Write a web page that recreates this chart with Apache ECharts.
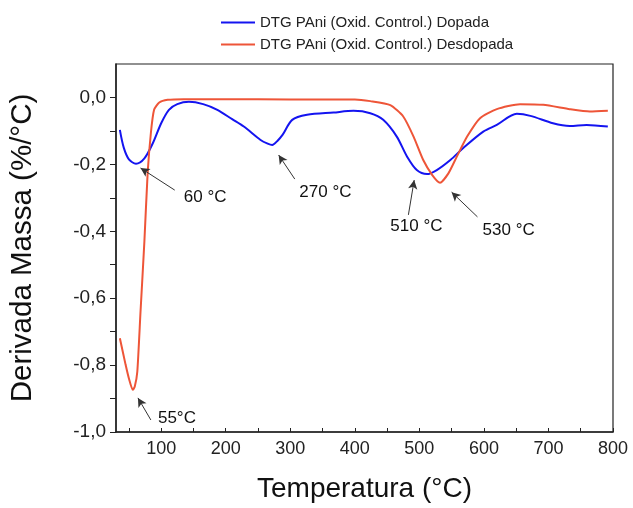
<!DOCTYPE html>
<html>
<head>
<meta charset="utf-8">
<script src="https://cdn.jsdelivr.net/npm/echarts@6/dist/echarts.min.js"></script>
<style>
  html, body { margin: 0; padding: 0; background: #fff; }
  #chart { width: 633px; height: 508px; }
</style>
</head>
<body>
<div id="chart"></div>
<script>
// DTG curves
let dopadaT = [36, 42, 50, 61, 74, 87, 100, 112, 125, 143, 165, 187, 210, 228, 254, 265, 272, 280, 288, 303, 326, 367, 398, 424, 444, 465, 481, 496, 512, 527, 548, 568, 599, 620, 651, 672, 707, 733, 759, 792]
let dopadaV = [-0.097, -0.150, -0.185, -0.198, -0.182, -0.137, -0.077, -0.037, -0.020, -0.013, -0.020, -0.037, -0.065, -0.087, -0.127, -0.138, -0.142, -0.130, -0.112, -0.067, -0.052, -0.045, -0.040, -0.047, -0.067, -0.117, -0.177, -0.217, -0.229, -0.217, -0.187, -0.151, -0.102, -0.082, -0.049, -0.055, -0.077, -0.085, -0.082, -0.087]

let desdopadaT = [36, 45, 50, 56, 59, 63, 68, 74, 79, 84, 89, 97, 110, 135, 200, 300, 400, 424, 455, 475, 491, 506, 520, 532, 545, 558, 574, 594, 620, 656, 692, 733, 764, 792]
let desdopadaV = [-0.720, -0.800, -0.840, -0.874, -0.865, -0.820, -0.640, -0.430, -0.227, -0.107, -0.037, -0.015, -0.007, -0.005, -0.005, -0.006, -0.006, -0.011, -0.023, -0.057, -0.117, -0.187, -0.232, -0.255, -0.227, -0.177, -0.117, -0.062, -0.035, -0.020, -0.022, -0.035, -0.042, -0.040]

let xTicks = [50, 100, 150, 200, 250, 300, 350, 400, 450, 500, 550, 600, 650, 700, 750, 800]
let xLabels = [100, 200, 300, 400, 500, 600, 700, 800]
let yTicks = [-1.0, -0.9, -0.8, -0.7, -0.6, -0.5, -0.4, -0.3, -0.2, -0.1, 0.0]
let yLabels = [-1.0, -0.8, -0.6, -0.4, -0.2, 0.0]

// annotations: [tail, head] of each arrow and the text anchor
let arrows = [
  [[121, -0.277], [68, -0.211]],
  [[307, -0.244], [282, -0.172]],
  [[483, -0.351], [492, -0.247]],
  [[590, -0.357], [550, -0.283]],
  [[84, -0.964], [64, -0.898]]
]
let notes = [
  { value: [135, -0.297], name: '60 °C' },
  { value: [314, -0.285], name: '270 °C' },
  { value: [455, -0.384], name: '510 °C' },
  { value: [598, -0.396], name: '530 °C' },
  { value: [95, -0.958], name: '55°C' }
]

const font = 'Liberation Sans, Arial, sans-serif'
const pair = (xs, ys) => xs.map((x, i) => [x, ys[i]])
const fmt = v => v.toFixed(1).replace('.', ',')

let chart = echarts.init(document.getElementById('chart'))
chart.setOption({
  animation: false,
  textStyle: { fontFamily: font },
  grid: {
    left: 115, right: 20, top: 64, bottom: 76,
    show: true,
    borderColor: '#222',
    borderWidth: 1.2
  },
  legend: {
    data: ['DTG PAni (Oxid. Control.) Dopada', 'DTG PAni (Oxid. Control.) Desdopada'],
    orient: 'vertical',
    left: 216,
    top: 10,
    itemWidth: 34,
    itemHeight: 2,
    itemGap: 7,
    icon: 'rect',
    textStyle: { fontSize: 15, color: '#222', fontFamily: font }
  },
  xAxis: {
    type: 'value',
    min: 30,
    max: 800,
    name: 'Temperatura (°C)',
    nameLocation: 'middle',
    nameGap: 43,
    nameTextStyle: { fontSize: 28, color: '#111', fontFamily: font },
    axisLine: { onZero: false, lineStyle: { color: '#222', width: 1.5 } },
    axisTick: { customValues: xTicks, inside: true, length: 4, lineStyle: { color: '#222' } },
    axisLabel: { customValues: xLabels, fontSize: 18, color: '#222', margin: 8 },
    splitLine: { show: false }
  },
  yAxis: {
    type: 'value',
    min: -1,
    max: 0.1,
    name: 'Derivada Massa (%/°C)',
    nameLocation: 'middle',
    nameGap: 78,
    nameTextStyle: { fontSize: 29.5, color: '#111', fontFamily: font },
    axisLine: { show: true, onZero: false, lineStyle: { color: '#222', width: 1.5 } },
    axisTick: { customValues: yTicks, inside: false, length: 6, lineStyle: { color: '#222' } },
    axisLabel: { customValues: yLabels, fontSize: 19, color: '#222', margin: 10, formatter: fmt },
    splitLine: { show: false }
  },
  series: [
    {
      name: 'DTG PAni (Oxid. Control.) Dopada',
      type: 'line',
      data: pair(dopadaT, dopadaV),
      smooth: 0.3,
      showSymbol: false,
      color: '#1414f0',
      lineStyle: { width: 2 }
    },
    {
      name: 'DTG PAni (Oxid. Control.) Desdopada',
      type: 'line',
      data: pair(desdopadaT, desdopadaV),
      smooth: 0.2,
      showSymbol: false,
      color: '#ee5538',
      lineStyle: { width: 2 },
      markLine: {
        silent: true,
        symbol: ['none', 'arrow'],
        symbolSize: [7, 9],
        label: { show: false },
        lineStyle: { color: '#333', width: 1, type: 'solid' },
        data: arrows.map(a => [{ coord: a[0] }, { coord: a[1] }])
      }
    },
    {
      name: 'notas',
      type: 'scatter',
      data: notes,
      symbolSize: 0,
      silent: true,
      itemStyle: { opacity: 1 },
      label: {
        show: true,
        position: 'right',
        distance: 0,
        formatter: '{b}',
        fontSize: 17,
        color: '#111',
        opacity: 1,
        fontFamily: font
      }
    }
  ]
})

window.addEventListener('resize', () => {
  chart.resize()
})
</script>
</body>
</html>
